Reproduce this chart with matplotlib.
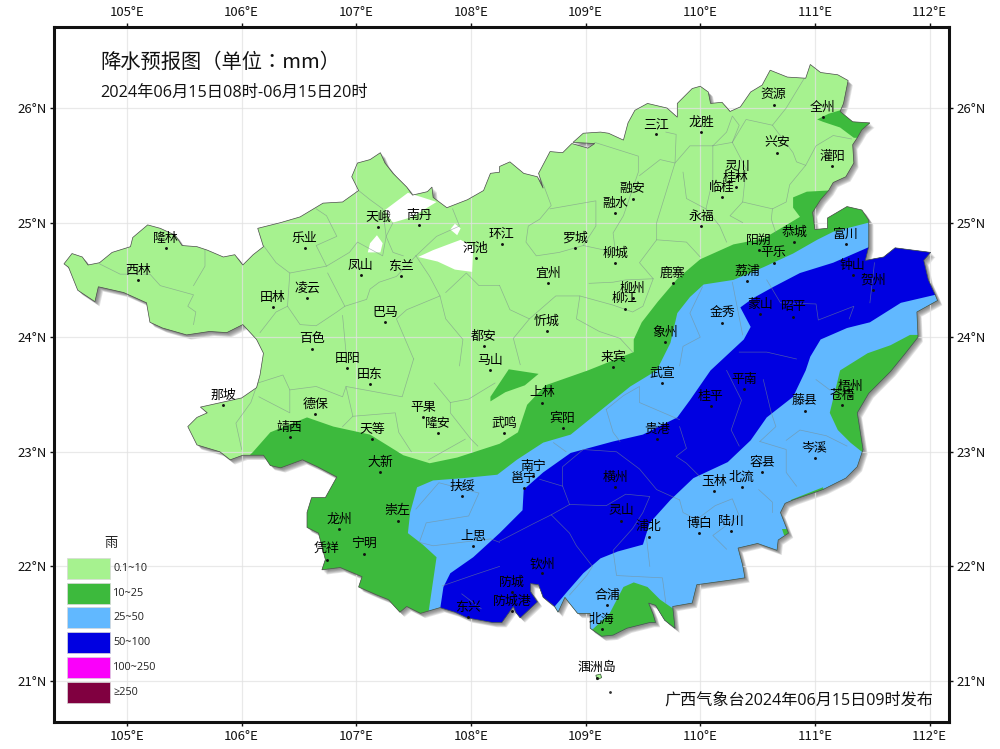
import matplotlib
matplotlib.use("Agg")
import matplotlib.pyplot as plt
import matplotlib.patheffects as pe
from matplotlib.patches import Polygon, Rectangle

plt.rcParams['font.family'] = ['Noto Sans CJK SC', 'DejaVu Sans']

TITLE = "降水预报图（单位：mm）"
SUBTITLE = "2024年06月15日08时-06月15日20时"
FOOTER = "广西气象台2024年06月15日09时发布"
LEGEND_TITLE = "雨"
LEGEND_LABELS = ["0.1~10", "10~25", "25~50", "50~100", "100~250", "≥250"]
LEGEND_COLORS = ["#A6F28F", "#3DBA3D", "#61B8FF", "#0000E1", "#FA00FA", "#800040"]

LON_TICKS = [105, 106, 107, 108, 109, 110, 111, 112]
LAT_TICKS = [21, 22, 23, 24, 25, 26]

OUTLINE = [(104.45,24.64),(104.52,24.73),(104.61,24.70),(104.66,24.63),(104.76,24.65),(104.87,24.74),(105.03,24.79),(105.05,24.87),(105.18,24.98),(105.29,24.95),(105.42,24.89),(105.48,24.80),(105.61,24.79),(105.70,24.76),(105.84,24.70),(105.94,24.72),(106.01,24.63),(106.10,24.72),(106.19,24.79),(106.14,24.95),(106.34,25.00),(106.51,25.05),(106.71,25.17),(106.88,25.18),(107.02,25.28),(106.96,25.40),(107.01,25.52),(107.12,25.55),(107.21,25.61),(107.25,25.52),(107.32,25.43),(107.44,25.31),(107.49,25.24),(107.62,25.27),(107.66,25.31),(107.67,25.22),(107.79,25.13),(107.97,25.20),(108.11,25.28),(108.17,25.43),(108.25,25.44),(108.25,25.49),(108.34,25.53),(108.46,25.43),(108.58,25.40),(108.63,25.30),(108.59,25.43),(108.69,25.62),(108.80,25.61),(108.88,25.69),(109.02,25.65),(109.08,25.69),(108.89,25.70),(108.98,25.78),(109.13,25.79),(109.20,25.78),(109.33,25.72),(109.37,25.87),(109.43,25.98),(109.54,26.04),(109.71,26.00),(109.80,25.92),(109.80,26.04),(109.93,26.17),(110.00,26.19),(110.07,26.14),(110.09,26.04),(110.19,26.05),(110.26,25.97),(110.35,26.01),(110.44,26.14),(110.54,26.20),(110.61,26.33),(110.76,26.27),(110.92,26.26),(110.96,26.38),(111.05,26.31),(111.20,26.29),(111.29,26.24),(111.25,26.04),(111.22,25.97),(111.33,25.88),(111.48,25.87),(111.41,25.81),(111.37,25.74),(111.33,25.68),(111.34,25.52),(111.27,25.40),(111.16,25.35),(111.12,25.28),(111.05,25.20),(110.98,25.09),(111.00,24.94),(111.11,24.95),(111.11,25.04),(111.28,25.14),(111.41,25.11),(111.47,25.02),(111.47,24.79),(111.44,24.67),(111.60,24.70),(111.70,24.78),(112.01,24.74),(111.95,24.67),(111.99,24.50),(112.05,24.37),(112.07,24.32),(111.89,24.22),(111.90,24.00),(111.79,23.86),(111.66,23.70),(111.47,23.51),(111.37,23.34),(111.42,23.02),(111.37,22.87),(111.27,22.77),(111.07,22.67),(110.81,22.58),(110.74,22.55),(110.70,22.47),(110.77,22.29),(110.68,22.23),(110.67,22.14),(110.50,22.20),(110.33,22.16),(110.37,22.01),(110.39,21.90),(110.26,21.88),(109.97,21.84),(109.93,21.68),(109.76,21.65),(109.78,21.46),(109.69,21.53),(109.61,21.66),(109.55,21.68),(109.59,21.58),(109.61,21.51),(109.56,21.51),(109.36,21.46),(109.24,21.40),(109.14,21.39),(109.04,21.46),(109.04,21.59),(108.93,21.59),(108.85,21.69),(108.82,21.73),(108.76,21.60),(108.73,21.65),(108.63,21.73),(108.59,21.84),(108.52,21.85),(108.52,21.78),(108.58,21.69),(108.43,21.55),(108.39,21.60),(108.37,21.65),(108.27,21.51),(108.19,21.51),(107.97,21.55),(107.86,21.60),(107.73,21.64),(107.56,21.59),(107.44,21.65),(107.38,21.60),(107.28,21.71),(107.18,21.75),(107.02,21.82),(107.05,21.91),(106.86,21.99),(106.70,21.97),(106.73,22.06),(106.67,22.29),(106.57,22.34),(106.57,22.47),(106.61,22.60),(106.73,22.60),(106.83,22.78),(106.66,22.87),(106.53,22.93),(106.34,22.86),(106.25,22.88),(106.19,22.97),(106.01,22.97),(105.90,22.93),(105.81,23.00),(105.61,23.06),(105.53,23.22),(105.61,23.30),(105.70,23.34),(105.64,23.39),(106.00,23.47),(106.13,23.56),(106.16,23.67),(106.19,23.86),(106.13,23.98),(106.01,24.11),(105.87,24.04),(105.72,24.05),(105.52,24.02),(105.31,24.08),(105.20,24.13),(105.17,24.30),(104.97,24.39),(104.75,24.44),(104.72,24.31),(104.57,24.41),(104.49,24.61)]

ISLAND = [(109.09,21.05),(109.13,21.06),(109.14,21.03),(109.10,21.01)]
ISLET_LON, ISLET_LAT = 109.21, 20.90

GREEN_MAIN = [(106.00,22.90),(106.10,23.00),(106.25,23.17),(106.57,23.30),(106.80,23.22),(107.12,23.15),(107.41,22.97),(107.64,22.90),(107.88,22.95),(108.25,23.07),(108.41,23.17),(108.49,23.41),(108.65,23.58),(109.02,23.71),(109.42,23.87),(109.42,23.98),(109.49,24.13),(109.63,24.31),(109.80,24.51),(110.00,24.68),(110.29,24.81),(110.55,24.86),(110.72,24.96),(110.87,25.05),(110.81,25.13),(110.81,25.22),(110.93,25.27),(111.12,25.28),(112.5,25.28),(112.5,20.5),(105.9,20.5)]
GREEN_QUANZHOU = [(111.02,25.90),(111.12,25.95),(111.22,25.98),(111.6,25.98),(111.6,25.74),(111.34,25.74),(111.22,25.83),(111.07,25.88)]
GREEN_MASHAN = [(108.17,23.48),(108.33,23.72),(108.59,23.68),(108.47,23.58),(108.30,23.52),(108.17,23.44)]
GREEN_CANGWU = [(111.22,23.71),(111.13,23.34),(111.20,23.19),(111.31,23.08),(111.41,23.00),(112.2,23.00),(112.2,24.02),(111.83,24.02),(111.66,23.93),(111.46,23.86)]
GREEN_BEIHAI = [(109.04,21.43),(109.21,21.59),(109.33,21.82),(109.42,21.86),(109.54,21.82),(109.65,21.71),(109.78,21.62),(109.85,21.30),(109.0,21.30)]
GREEN_COAST1 = [(110.79,22.58),(111.07,22.69),(111.10,22.62),(110.81,22.53)]
GREEN_COAST2 = [(110.71,22.33),(110.80,22.33),(110.80,22.27),(110.73,22.27)]

BLUE_MAIN = [(107.63,21.40),(107.63,21.60),(107.70,22.08),(107.58,22.19),(107.45,22.29),(107.47,22.47),(107.53,22.69),(107.67,22.75),(107.93,22.77),(108.23,22.80),(108.40,22.93),(108.63,23.08),(108.87,23.15),(109.13,23.36),(109.39,23.57),(109.62,23.71),(109.74,23.95),(109.80,24.21),(109.91,24.35),(110.03,24.46),(110.29,24.50),(110.55,24.61),(110.81,24.73),(111.02,24.85),(111.16,24.92),(111.47,25.00),(112.5,25.00),(112.5,20.5),(107.63,20.5)]

DARK_BLUE_UPPER = [(107.73,21.40),(107.73,21.62),(107.76,21.82),(107.82,21.94),(108.02,22.08),(108.25,22.29),(108.45,22.49),(108.46,22.67),(108.63,22.82),(108.87,22.99),(109.24,23.09),(109.50,23.15),(109.80,23.30),(109.91,23.45),(110.09,23.71),(110.38,23.98),(110.44,24.09),(110.35,24.26),(110.46,24.34),(110.64,24.44),(110.87,24.56),(111.16,24.65),(111.48,24.79),(111.7,24.95),(112.3,24.95)]
DARK_BLUE_LOWER = [(112.3,24.37),(112.05,24.37),(111.75,24.30),(111.48,24.13),(111.28,24.08),(111.05,23.98),(110.96,23.83),(110.92,23.71),(110.81,23.48),(110.58,23.30),(110.44,23.10),(110.24,22.91),(109.94,22.77),(109.74,22.58),(109.56,22.38),(109.50,22.19),(109.28,22.13),(109.13,22.07),(108.98,21.94),(108.84,21.78),(108.73,21.65),(108.70,21.40)]

NO_DATA_A = [(107.25,25.11),(107.45,25.26),(107.64,25.20),(107.70,25.18),(107.49,25.05),(107.32,25.00),(107.28,25.05)]
NO_DATA_B = [(107.12,24.82),(107.18,24.89),(107.23,24.82),(107.21,24.74),(107.10,24.74)]
NO_DATA_C = [(107.82,24.94),(107.86,24.99),(107.91,24.95),(107.88,24.89)]
NO_DATA_D = [(107.54,24.70),(107.67,24.76),(107.91,24.85),(108.02,24.79),(108.01,24.57),(107.86,24.59),(107.71,24.66)]

COUNTY_LINES = [
 [(104.76,24.64),(104.94,24.55),(105.20,24.55),(105.29,24.45),(105.58,24.37),(105.53,24.27),(105.60,24.22),(105.58,24.11)],
 [(105.68,24.77),(105.68,24.62),(105.58,24.45)],
 [(106.19,24.80),(106.30,24.65),(106.42,24.56),(106.74,24.62),(106.94,24.74),(107.01,24.83),(107.12,24.77),(107.23,24.71),(107.26,24.88),(107.32,25.00)],
 [(106.42,24.56),(106.40,24.27),(106.30,24.22),(106.16,24.04)],
 [(106.40,24.27),(106.51,24.11),(106.65,24.10),(106.83,24.22),(106.90,24.27),(106.75,24.56)],
 [(106.88,24.19),(106.91,23.87)],
 [(106.90,24.27),(107.09,24.33),(107.12,24.42),(107.20,24.48),(107.35,24.53),(107.52,24.71)],
 [(107.52,24.71),(107.64,24.53),(107.73,24.36),(107.44,24.24),(107.35,24.16),(107.50,23.81)],
 [(107.73,24.36),(107.78,24.16),(107.93,23.98),(107.90,23.75)],
 [(106.65,25.12),(106.74,25.06),(106.83,24.88),(106.65,24.80),(106.74,24.62)],
 [(107.02,25.28),(107.12,25.20),(107.23,25.12),(107.26,24.88),(107.32,24.74),(107.41,24.71)],
 [(107.84,25.12),(107.90,24.97),(107.70,24.88),(107.52,24.71)],
 [(107.78,24.39),(107.96,24.56),(108.07,24.45),(108.25,24.45)],
 [(108.58,25.44),(108.64,25.31),(108.70,25.15),(108.60,25.03),(108.50,24.97),(108.48,24.83),(108.57,24.71),(108.77,24.74),(108.98,24.80),(109.09,24.97),(109.09,25.19),(108.69,25.12)],
 [(109.08,25.70),(109.46,25.58),(109.46,25.44),(109.33,25.06),(109.24,24.91),(109.26,24.74),(108.98,24.80)],
 [(109.47,25.41),(109.65,25.55),(109.78,25.52),(109.62,25.00),(109.62,24.85),(109.47,24.65),(109.59,24.51)],
 [(109.70,25.79),(109.79,25.77),(109.78,25.52),(109.91,25.67),(110.11,25.67),(110.23,25.79),(110.28,25.93),(110.34,25.85),(110.28,25.70),(110.11,25.67)],
 [(109.85,25.44),(109.88,25.21),(110.05,25.12),(110.17,24.97),(110.23,24.83)],
 [(110.11,25.67),(110.11,25.38),(110.05,25.12)],
 [(110.28,25.70),(110.40,25.47),(110.37,25.18),(110.26,25.06),(110.37,25.00)],
 [(110.92,26.28),(110.75,26.00),(110.63,25.85),(110.40,25.90),(110.28,25.70)],
 [(110.63,25.85),(110.81,25.61),(110.84,25.53),(110.92,25.50),(110.78,25.33),(110.75,25.18),(110.63,25.12),(110.37,25.18)],
 [(111.32,25.73),(111.16,25.76),(111.01,25.67),(110.92,25.50)],
 [(110.63,25.12),(110.62,25.03),(110.66,24.91)],
 [(109.62,24.85),(109.88,24.83),(110.00,24.70)],
 [(109.03,24.47),(109.24,24.48),(109.35,24.50),(109.59,24.51),(109.50,24.27),(109.41,24.22),(109.24,24.28),(108.95,24.36),(108.92,24.16),(109.12,24.05),(109.30,23.99),(109.41,23.87)],
 [(108.25,24.45),(108.34,24.24),(108.51,24.16),(108.74,24.36),(108.95,24.36)],
 [(108.51,24.16),(108.37,23.99),(108.43,23.76)],
 [(110.02,24.44),(109.91,24.21),(110.00,24.00),(109.85,23.92),(109.82,23.75)],
 [(110.28,24.48),(110.37,24.02)],
 [(110.58,24.50),(110.70,24.30),(111.01,24.29),(111.03,24.15),(111.34,24.27),(111.30,24.16)],
 [(111.52,24.65),(111.48,24.30)],
 [(110.34,23.87),(110.58,23.87),(110.84,23.81)],
 [(106.14,23.60),(106.08,23.43),(105.95,23.25),(106.00,23.02)],
 [(106.14,23.60),(106.36,23.67),(106.42,23.54),(106.42,23.34),(106.15,23.48)],
 [(106.42,23.54),(106.65,23.57),(106.88,23.48),(106.91,23.57),(106.97,23.31),(106.88,23.22)],
 [(106.91,23.57),(107.40,23.48),(107.50,23.81)],
 [(106.97,23.31),(107.34,23.34),(107.37,23.17),(107.48,23.00)],
 [(107.68,23.60),(107.82,23.43),(107.82,23.34),(108.00,23.11),(108.06,23.05)],
 [(107.82,23.43),(107.98,23.46),(108.21,23.60)],
 [(107.95,23.11),(107.63,22.93)],
 [(107.52,22.50),(107.72,22.73),(108.07,22.64),(107.98,22.44),(107.61,22.38),(107.55,22.21),(107.67,22.18),(108.17,22.24),(108.25,22.21)],
 [(107.75,21.83),(108.01,21.92),(108.25,22.00)],
 [(107.92,21.76),(108.09,21.63)],
 [(108.25,22.22),(108.54,22.37),(108.70,22.45),(108.86,22.54),(109.18,22.53),(109.35,22.63),(109.56,22.61),(109.50,22.47),(109.41,22.33),(109.24,22.14),(109.27,21.92),(109.67,21.90),(109.70,21.68)],
 [(108.70,22.45),(108.86,22.29),(108.92,22.18),(109.06,22.00),(109.01,21.92),(108.86,21.75)],
 [(108.60,22.76),(108.80,22.70),(108.80,22.87),(108.98,23.02),(109.27,23.00),(109.47,22.85),(109.62,22.67),(109.82,22.58)],
 [(108.86,22.54),(108.80,22.70)],
 [(109.82,23.22),(109.88,23.03),(109.79,22.96),(109.88,22.90),(110.00,22.78)],
 [(109.82,22.58),(109.85,22.47),(109.97,22.41),(110.13,22.53),(110.28,22.59),(110.34,22.44),(110.11,22.27),(110.23,22.15)],
 [(109.53,22.26),(109.56,22.00)],
 [(109.18,23.37),(109.33,23.49),(109.47,23.57),(109.47,23.43),(109.82,23.28)],
 [(109.18,23.37),(109.24,23.17),(109.30,23.09)],
 [(108.72,23.08),(108.83,23.00)],
 [(110.23,23.71),(110.36,23.45),(110.27,23.19),(110.34,23.05)],
 [(110.55,23.63),(110.62,23.34),(110.66,23.22),(110.52,23.09)],
 [(110.52,23.09),(110.75,23.02),(110.75,22.82),(110.84,22.70)],
 [(110.75,23.10),(110.87,23.19),(111.10,23.14),(111.28,23.05)],
 [(110.51,22.67),(110.63,22.56),(110.63,22.47)],
 [(111.01,23.63),(111.13,23.54)],
]

CITY_NAMES = ["隆林","西林","乐业","天峨","南丹","河池","凤山","东兰","田林","凌云","巴马","百色","都安","田阳","马山","田东","那坡","德保","靖西","天等","平果","隆安","大新","扶绥","崇左","龙州","宁明","凭祥","上思","武鸣","宾阳","上林","南宁","邕宁","横州","灵山","浦北","博白","陆川","玉林","北流","容县","岑溪","藤县","苍梧","梧州","贵港","桂平","平南","武宣","钦州","防城","东兴","防城港","合浦","北海","涠洲岛","象州","来宾","金秀","蒙山","昭平","荔浦","平乐","阳朔","恭城","富川","钟山","贺州","鹿寨","柳州","柳江","柳城","忻城","宜州","罗城","环江","融水","融安","三江","龙胜","资源","全州","兴安","灌阳","灵川","桂林","临桂","永福"]
CITY_LONS = [105.34,105.10,106.55,107.19,107.55,108.04,107.04,107.39,106.27,106.57,107.25,106.61,108.11,106.92,108.17,107.12,105.84,106.64,106.42,107.14,107.58,107.71,107.21,107.92,107.36,106.85,107.07,106.74,108.02,108.29,108.80,108.62,108.54,108.46,109.26,109.31,109.55,109.99,110.27,110.12,110.36,110.54,111.00,110.91,111.24,111.31,109.62,110.09,110.38,109.67,108.62,108.36,107.97,108.36,109.19,109.14,109.10,109.69,109.24,110.19,110.52,110.81,110.41,110.64,110.51,110.82,111.27,111.33,111.51,109.76,109.41,109.34,109.26,108.66,108.67,108.91,108.27,109.26,109.41,109.61,110.01,110.64,111.07,110.67,111.15,110.32,110.31,110.19,110.01]
CITY_LATS = [24.78,24.50,24.78,24.96,24.98,24.69,24.54,24.53,24.26,24.34,24.13,23.90,23.92,23.73,23.71,23.59,23.41,23.33,23.13,23.11,23.30,23.16,22.82,22.61,22.40,22.33,22.11,22.06,22.18,23.16,23.21,23.43,22.79,22.68,22.69,22.40,22.26,22.29,22.31,22.66,22.69,22.82,22.95,23.36,23.41,23.49,23.11,23.40,23.55,23.60,21.94,21.78,21.56,21.61,21.66,21.45,21.03,23.96,23.74,24.12,24.20,24.18,24.49,24.65,24.76,24.83,24.81,24.54,24.41,24.47,24.34,24.25,24.65,24.05,24.47,24.78,24.81,25.08,25.21,25.77,25.79,26.03,25.92,25.61,25.49,25.41,25.31,25.22,24.97]

W, H = 1000, 749
fig = plt.figure(figsize=(W/100, H/100), dpi=100, facecolor="white")
L, R, T, B = 54, 949, 27, 722
ax = fig.add_axes([L/W, 1-B/H, (R-L)/W, (B-T)/H])
ax.set_xlim(104.363, 112.17)
ax.set_ylim(20.642, 26.707)
ax.set_aspect("auto")

c_light, c_green, c_blue, c_dark = LEGEND_COLORS[:4]

shadow = [pe.SimplePatchShadow(offset=(k, -k), shadow_rgbFace="#555555", alpha=0.16) for k in (3.4, 2.9, 2.4, 1.9, 1.4, 0.9)] + [pe.Normal()]
base = Polygon(OUTLINE, closed=True, facecolor=c_light, edgecolor="none", zorder=2, path_effects=shadow)
ax.add_patch(base)

clip = Polygon(OUTLINE, closed=True, transform=ax.transData)

def fill(coords, color, z=3):
    p = Polygon(coords, closed=True, facecolor=color, edgecolor="none", zorder=z)
    ax.add_patch(p)
    p.set_clip_path(clip)
    return p

fill(GREEN_MAIN, c_green, 3)
fill(GREEN_QUANZHOU, c_green, 3)
fill(GREEN_MASHAN, c_green, 3)
fill(BLUE_MAIN, c_blue, 4)
fill(DARK_BLUE_UPPER + DARK_BLUE_LOWER, c_dark, 5)
fill(GREEN_CANGWU, c_green, 6)
fill(GREEN_BEIHAI, c_green, 6)
fill(GREEN_COAST1, c_green, 6)
fill(GREEN_COAST2, c_green, 6)
for hole in (NO_DATA_A, NO_DATA_B, NO_DATA_C, NO_DATA_D):
    fill(hole, "white", 7)

for line in COUNTY_LINES:
    xs, ys = zip(*line)
    ax.plot(xs, ys, color="#7a8c8c", lw=0.5, alpha=0.6, zorder=8, clip_path=clip)

edge = Polygon(OUTLINE, closed=True, facecolor="none", edgecolor="#4a4a4a", lw=0.5, zorder=9)
ax.add_patch(edge)

ax.add_patch(Polygon(ISLAND, closed=True, facecolor=c_light, edgecolor="#4a6a4a", lw=0.6, zorder=9))
ax.plot([ISLET_LON], [ISLET_LAT], ".", color="#333333", ms=2, zorder=9)

ax.set_xticks(LON_TICKS)
ax.set_yticks(LAT_TICKS)
ax.set_xticklabels([f"{v}°E" for v in LON_TICKS])
ax.set_yticklabels([f"{v}°N" for v in LAT_TICKS])
ax.tick_params(axis="both", which="major", direction="out", length=3, width=1.0, labelsize=9.5,
               top=True, bottom=True, left=True, right=True,
               labeltop=True, labelbottom=True, labelleft=True, labelright=True, pad=2.5, colors="#111111")
ax.grid(True, color="#e2e2e2", lw=0.9, alpha=0.75)
ax.set_axisbelow(False)
for g in ax.get_xgridlines() + ax.get_ygridlines():
    g.set_zorder(10)
for s in ax.spines.values():
    s.set_linewidth(2.2)
    s.set_color("#111111")
    s.set_zorder(20)

ax.plot(CITY_LONS, CITY_LATS, "o", color="#111111", ms=2.1, mew=0, zorder=11)
for name, lon, lat in zip(CITY_NAMES, CITY_LONS, CITY_LATS):
    ax.annotate(name, (lon, lat), xytext=(0, 7), textcoords="offset points", ha="center", va="center",
                fontsize=9.3, color="#000000", zorder=12)

def px(x, y):
    return x/W, 1-y/H

latin_first = ['Open Sans', 'Noto Sans CJK SC']
fig.text(*px(100, 62), TITLE, fontsize=14.6, ha="left", va="center", color="#111111",
         family=['Noto Sans CJK TC', 'DejaVu Sans'])
fig.text(*px(100, 93), SUBTITLE, fontsize=11.7, ha="left", va="center", color="#111111", family=latin_first)
fig.text(*px(933, 701), FOOTER, fontsize=11.6, ha="right", va="center", color="#111111", zorder=30, family=latin_first)

fig.text(*px(111, 544), LEGEND_TITLE, fontsize=9.5, ha="center", va="center", color="#222222")
swatch_tops = [558, 583, 607, 632, 657, 682]
for top, color, lab in zip(swatch_tops, LEGEND_COLORS, LEGEND_LABELS):
    x0, y0 = px(67, top + 21)
    fig.patches.append(Rectangle((x0, y0), 43/W, 21/H, transform=fig.transFigure, facecolor=color,
                                 edgecolor="#d8d8d8", lw=0.5, zorder=30))
    fig.text(*px(113, top + 10.5), lab, fontsize=7.8, ha="left", va="center", color="#222222", zorder=30,
             family=['Open Sans', 'DejaVu Sans'])

fig.savefig("out.png", dpi=100)
